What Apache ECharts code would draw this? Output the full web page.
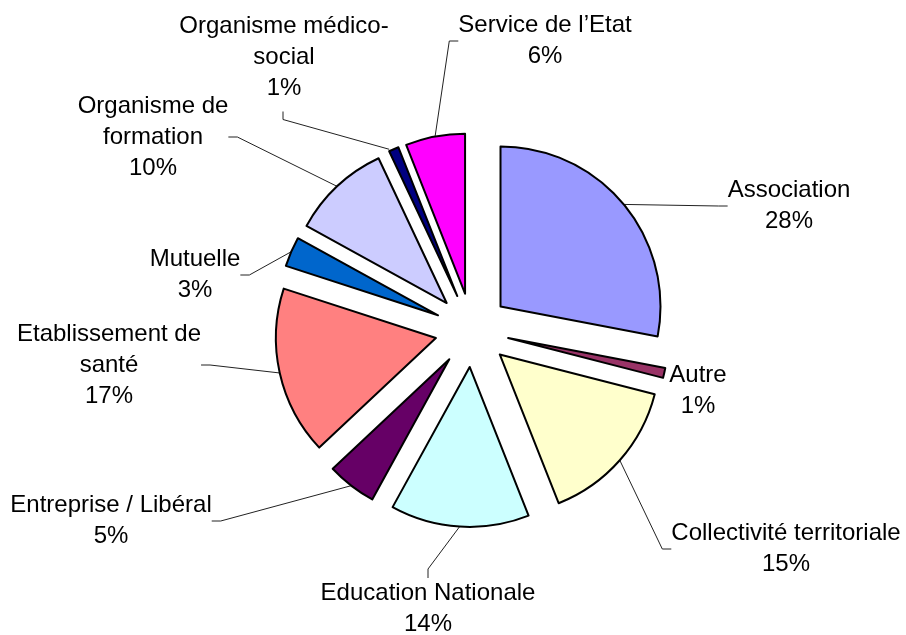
<!DOCTYPE html>
<html>
<head>
<meta charset="utf-8">
<script src="https://cdn.jsdelivr.net/npm/echarts@6/dist/echarts.min.js"></script>
<style>
  html, body { margin: 0; padding: 0; background: #fff; }
  #chart { width: 906px; height: 635px; }
</style>
</head>
<body>
<div id="chart"></div>
<script>
// categories, clockwise from 12 o'clock
const categories = [
  "Association", "Autre", "Collectivité territoriale", "Education Nationale",
  "Entreprise / Libéral", "Etablissement de santé", "Mutuelle",
  "Organisme de formation", "Organisme médico-social", "Service de l’Etat"
];
// label text as wrapped in the original
const labelText = [
  "Association", "Autre", "Collectivité territoriale", "Education Nationale",
  "Entreprise / Libéral", "Etablissement de\nsanté", "Mutuelle",
  "Organisme de\nformation", "Organisme médico-\nsocial", "Service de l’Etat"
];
const percents = [28, 1, 15, 14, 5, 17, 3, 10, 1, 6];
const colors = [
  "#9999FF", "#993366", "#FFFFCC", "#CCFFFF", "#660066",
  "#FF8080", "#0066CC", "#CCCCFF", "#000080", "#FF00FF"
];

// layout
const CX = 472, CY = 330, R = 160, EXPLODE = 37;
// where each label block is centred
const labelPos = [
  [789, 206], [698, 391], [786, 549], [428, 609], [111, 521],
  [109, 365], [195, 275], [153, 137], [284, 57], [545, 41]
];

const total = percents.reduce((a, b) => a + b, 0);
const hidden = {
  itemStyle: { color: "rgba(0,0,0,0)", borderWidth: 0 },
  label: { show: false },
  labelLine: { show: false }
};

// one pie per slice so every slice can be pulled out along its mid angle
let before = 0;
const series = categories.map((name, i) => {
  const v = percents[i];
  const mid = (before + v / 2) / total * Math.PI * 2;
  const s = {
    type: "pie",
    center: [CX + EXPLODE * Math.sin(mid), CY - EXPLODE * Math.cos(mid)],
    radius: [0, R],
    startAngle: 90,
    clockwise: true,
    avoidLabelOverlap: false,
    silent: true,
    emphasis: { disabled: true },
    itemStyle: { borderColor: "#000", borderWidth: 2 },
    label: {
      show: true,
      position: "outside",
      color: "#000",
      fontFamily: "Liberation Sans, Arial, sans-serif",
      fontSize: 24,
      lineHeight: 31,
      align: "center",
      formatter: () => labelText[i] + "\n" + v + "%"
    },
    labelLine: {
      show: i !== 1,
      length: 10,
      length2: 9,
      lineStyle: { color: "#222", width: 1 }
    },
    labelLayout: (p) => {
      const out = {
        x: labelPos[i][0],
        y: labelPos[i][1],
        align: "center",
        verticalAlign: "middle"
      };
      // small slice at the top: leader goes to the bottom of its label
      if (i === 8 && p.rect && p.labelRect) {
        const lx = labelPos[i][0] - 1;
        const bottom = labelPos[i][1] + p.labelRect.height / 2;
        out.labelLinePoints = [
          [p.rect.x + 1, p.rect.y + 3],
          [lx, bottom + 16],
          [lx, bottom + 8]
        ];
      }
      return out;
    },
    data: [
      Object.assign({ name: "", value: before }, hidden),
      { name: name, value: v, itemStyle: { color: colors[i] } },
      Object.assign({ name: "", value: total - before - v }, hidden)
    ]
  };
  before += v;
  return s;
});

const chart = echarts.init(document.getElementById("chart"));
chart.setOption({
  animation: false,
  backgroundColor: "#fff",
  series: series
});
</script>
</body>
</html>
